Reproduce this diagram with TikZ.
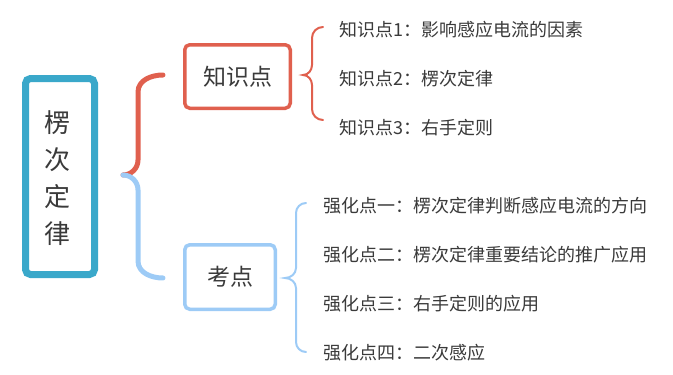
\documentclass[tikz,border=0pt]{standalone}
\usepackage{fontspec}
\setmainfont{Noto Sans CJK SC}
\definecolor{rootc}{HTML}{3AA8CA}
\definecolor{redc}{HTML}{E0604E}
\definecolor{bluec}{HTML}{9DCBF6}
\definecolor{txt}{HTML}{3A3A3A}
\begin{document}
\begin{tikzpicture}[x=1pt,y=-1pt,
  rootbox/.style={draw=rootc,line width=7pt,rounded corners=5pt,fill=white,minimum width=69pt,minimum height=196pt,inner sep=0pt},
  redbox/.style={draw=redc,line width=3.5pt,rounded corners=5pt,fill=white,minimum width=105.5pt,minimum height=63.5pt,inner sep=0pt,font=\fontsize{23}{26}\selectfont,text=txt},
  bluebox/.style={draw=bluec,line width=3.5pt,rounded corners=5pt,fill=white,minimum width=90.5pt,minimum height=64.5pt,inner sep=0pt,font=\fontsize{23}{26}\selectfont,text=txt},
  item/.style={anchor=west,inner sep=0pt,font=\fontsize{18}{20}\selectfont,text=txt},
  bigbrace/.style={line width=5pt},
  smallbrace/.style={line width=2pt}]
\useasboundingbox (0,0) rectangle (673,375);
\node[rootbox] (root) at (60,176.5) {};
\node[text=txt,font=\fontsize{26}{28}\selectfont] (c1) at (58,123) {楞};
\node[text=txt,font=\fontsize{26}{28}\selectfont] (c2) at (58,160) {次};
\node[text=txt,font=\fontsize{26}{28}\selectfont] (c3) at (58,197) {定};
\node[text=txt,font=\fontsize{26}{28}\selectfont] (c4) at (58,234) {律};
\node[redbox] (zs) at (237.5,76.5) {知识点};
\node[bluebox] (kd) at (230,277) {考点};
\node[item] (z1) at (339,30) {知识点1：影响感应电流的因素};
\node[item] (z2) at (339,79) {知识点2：楞次定律};
\node[item] (z3) at (339,128) {知识点3：右手定则};
\node[item] (q1) at (323,206) {强化点一：楞次定律判断感应电流的方向};
\node[item] (q2) at (323,255) {强化点二：楞次定律重要结论的推广应用};
\node[item] (q3) at (323,304) {强化点三：右手定则的应用};
\node[item] (q4) at (323,353) {强化点四：二次感应};
% big brace
\coordinate (j) at (123,175);
\coordinate (rt) at (163,75);
\coordinate (bt) at (163,278);
\draw[bigbrace,redc,line cap=round] (j) to[out=0,in=-90] (138,160) -- (138,92) to[out=90,in=180] (rt);
\draw[bigbrace,bluec,line cap=round] (j) to[out=0,in=90] (138,190) -- (138,261) to[out=-90,in=180] (bt);
% small red brace
\coordinate (rtip) at (303,75);
\draw[smallbrace,redc,line cap=round] (323,27) to[out=180,in=90] (312,38) -- (312,65) to[out=-90,in=0] (rtip) to[out=0,in=90] (312,85) -- (312,109) to[out=-90,in=180] (323,120);
% small blue brace
\coordinate (btip) at (285,278);
\draw[smallbrace,bluec,line cap=round] (306,203) to[out=180,in=90] (296,213) -- (296,268) to[out=-90,in=0] (btip) to[out=0,in=90] (296,288) -- (296,342) to[out=-90,in=180] (306,352);
\end{tikzpicture}
\end{document}
